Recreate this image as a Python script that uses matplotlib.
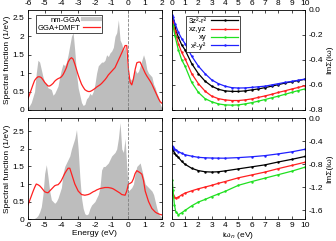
import numpy as np
import matplotlib.pyplot as plt
from matplotlib.lines import Line2D

plt.rcParams['font.family'] = ['Liberation Sans', 'DejaVu Sans']
plt.rcParams['font.size'] = 6
plt.rcParams['axes.unicode_minus'] = False

# ---- spectral functions, energy grid in eV ----
energy = np.round(np.arange(-6.0, 2.01, 0.1), 2)

gga_top = [0.05, 0.12, 0.2, 0.35, 0.5, 1.0, 1.35, 1.3, 1.1, 0.9, 0.75,
           0.7, 0.6, 0.58, 0.55, 0.4, 0.45, 0.55, 0.65, 0.9, 1.1, 1.25,
           1.2, 1.3, 1.5, 1.75, 2.0, 2.1, 1.6, 1.0, 0.6, 0.4, 0.2,
           0.12, 0.15, 0.3, 0.35, 0.45, 0.4, 0.5, 0.7, 1.0, 1.2, 1.25,
           1.3, 1.3, 1.35, 1.5, 1.45, 1.55, 1.6, 1.7, 2.0, 2.1, 2.45,
           1.9, 1.8, 1.6, 1.75, 1.3, 0.8, 0.85, 0.8, 0.95, 1.1, 1.0,
           1.05, 1.2, 1.35, 1.5, 1.35, 1.1, 1.0, 0.95, 0.9, 0.7, 0.6,
           0.45, 0.35, 0.15, 0.05]
dmft_top = [0.3, 0.42, 0.55, 0.68, 0.8, 0.86, 0.9, 0.9, 0.88, 0.82, 0.75,
            0.7, 0.65, 0.65, 0.68, 0.72, 0.78, 0.82, 0.85, 0.87, 0.9, 0.96,
            1.05, 1.15, 1.3, 1.38, 1.42, 1.38, 1.25, 1.1, 0.95, 0.82, 0.7,
            0.62, 0.55, 0.52, 0.5, 0.5, 0.52, 0.55, 0.58, 0.62, 0.65, 0.68,
            0.72, 0.77, 0.82, 0.88, 0.95, 1.0, 1.05, 1.1, 1.15, 1.25, 1.35,
            1.45, 1.55, 1.65, 1.75, 1.75, 1.1, 0.75, 0.68, 0.85, 1.1, 1.28,
            1.3, 1.3, 1.2, 1.1, 1.0, 0.92, 0.85, 0.78, 0.7, 0.6, 0.5,
            0.4, 0.3, 0.22, 0.18]

gga_bot = [0.0, 0.0, 0.0, 0.01, 0.02, 0.05, 0.1, 0.2, 0.35, 0.7, 1.3,
           1.55, 1.2, 0.8, 0.55, 0.5, 0.45, 0.5, 0.6, 0.75, 0.9, 1.3,
           1.5, 1.6, 1.7, 1.8, 2.0, 2.15, 2.3, 2.55, 2.0, 1.2, 0.6,
           0.3, 0.15, 0.12, 0.15, 0.3, 0.4, 0.45, 0.5, 0.6, 0.7, 0.9,
           1.4, 1.5, 1.5, 1.55, 1.6, 1.7, 1.8, 1.85, 1.9, 2.0, 2.3,
           2.75, 2.0, 1.9, 2.3, 1.5, 0.8, 0.85, 0.9, 1.0, 1.3, 1.5,
           1.55, 1.6, 1.4, 1.2, 1.0, 0.95, 0.9, 0.85, 0.8, 0.7, 0.5,
           0.3, 0.15, 0.08, 0.05]
dmft_bot = [0.4, 0.52, 0.65, 0.78, 0.9, 1.0, 0.98, 0.95, 0.9, 0.84, 0.78,
            0.76, 0.75, 0.8, 0.85, 0.9, 0.95, 0.97, 0.98, 1.03, 1.1, 1.2,
            1.3, 1.38, 1.45, 1.45, 1.3, 1.15, 1.0, 0.9, 0.8, 0.75, 0.7,
            0.69, 0.68, 0.69, 0.7, 0.72, 0.75, 0.78, 0.8, 0.83, 0.85, 0.87,
            0.88, 0.89, 0.9, 0.9, 0.9, 0.89, 0.88, 0.86, 0.83, 0.8, 0.77,
            0.74, 0.7, 0.69, 0.68, 0.8, 1.0, 1.02, 1.05, 1.15, 1.3, 1.38,
            1.35, 1.32, 1.28, 1.1, 0.8, 0.65, 0.5, 0.4, 0.3, 0.25, 0.2,
            0.17, 0.15, 0.13, 0.12]

# ---- self-energies on Matsubara axis ----
wn_top = [0.05, 0.1, 0.25, 0.5, 0.75, 1.0, 1.5, 2.0, 2.5, 3.0, 3.5, 4.0,
          4.5, 5.0, 5.5, 6.0, 6.5, 7.0, 7.5, 8.0, 8.5, 9.0, 9.5, 10.0]
s_z2_top = [-0.06, -0.08, -0.14, -0.22, -0.28, -0.32, -0.43, -0.51, -0.57, -0.61,
            -0.635, -0.648, -0.652, -0.652, -0.648, -0.64, -0.632, -0.622, -0.61,
            -0.598, -0.585, -0.575, -0.565, -0.555]
s_xz_top = [-0.08, -0.1, -0.17, -0.27, -0.34, -0.39, -0.51, -0.59, -0.65, -0.69,
            -0.71, -0.72, -0.725, -0.725, -0.72, -0.712, -0.7, -0.688, -0.675,
            -0.66, -0.647, -0.633, -0.62, -0.606]
s_xy_top = [-0.11, -0.13, -0.21, -0.32, -0.4, -0.45, -0.58, -0.66, -0.71, -0.735,
            -0.752, -0.76, -0.762, -0.76, -0.752, -0.742, -0.73, -0.717, -0.703,
            -0.69, -0.675, -0.66, -0.645, -0.632]
s_x2_top = [-0.04, -0.06, -0.11, -0.18, -0.23, -0.27, -0.37, -0.45, -0.51, -0.56,
            -0.59, -0.61, -0.622, -0.625, -0.624, -0.62, -0.615, -0.61, -0.6,
            -0.59, -0.58, -0.572, -0.563, -0.553]

wn_bot = [0.05, 0.1, 0.2, 0.3, 0.5, 0.75, 1.0, 1.5, 2.0, 2.5, 3.0, 3.5, 4.0,
          5.0, 6.0, 7.0, 8.0, 9.0, 10.0]
s_z2_bot = [-0.5, -0.55, -0.6, -0.64, -0.68, -0.75, -0.8, -0.87, -0.91, -0.93,
            -0.935, -0.93, -0.915, -0.88, -0.845, -0.81, -0.76, -0.715, -0.665]
s_xz_bot = [-1.26, -1.33, -1.37, -1.39, -1.37, -1.33, -1.3, -1.26, -1.225, -1.195,
            -1.165, -1.13, -1.1, -1.035, -0.985, -0.935, -0.875, -0.82, -0.765]
s_xy_bot = [-1.08, -1.25, -1.5, -1.62, -1.675, -1.64, -1.6, -1.52, -1.455, -1.41,
            -1.36, -1.315, -1.27, -1.165, -1.1, -1.04, -0.98, -0.92, -0.85]
s_x2_bot = [-0.48, -0.5, -0.53, -0.55, -0.58, -0.61, -0.635, -0.66, -0.68, -0.688,
            -0.692, -0.694, -0.695, -0.685, -0.67, -0.65, -0.62, -0.585, -0.54]

orb_labels = ['3z²-r²', 'xz,yz', 'xy', 'x²-y²']
orb_colors = ['black', '#ff2020', '#20e020', '#2020ff']

fig = plt.figure(figsize=(3.36, 2.41), dpi=100)
ax_tl = fig.add_axes([0.083, 0.544, 0.399, 0.415])
ax_bl = fig.add_axes([0.083, 0.091, 0.399, 0.419])
ax_tr = fig.add_axes([0.511, 0.544, 0.397, 0.415])
ax_br = fig.add_axes([0.511, 0.091, 0.397, 0.419])


def style(ax):
    ax.tick_params(direction='in', top=True, right=True, length=2.5,
                   width=0.5, labelsize=6)
    ax.tick_params(axis='x', pad=2)
    ax.tick_params(axis='y', pad=2.5)
    for s in ax.spines.values():
        s.set_linewidth(0.6)


# left panels
for ax, gga, dmft, ymax in [(ax_tl, gga_top, dmft_top, 2.72),
                            (ax_bl, gga_bot, dmft_bot, 2.88)]:
    ax.fill_between(energy, 0, gga, color='#bdbdbd', lw=0, label='nm-GGA')
    ax.plot(energy, dmft, color='#ff2020', lw=0.9, label='GGA+DMFT')
    ax.axvline(0, color='gray', ls='--', lw=0.6)
    ax.set_xlim(-6, 2)
    ax.set_ylim(0, ymax)
    ax.set_xticks(range(-6, 3))
    ax.set_yticks([0, 0.5, 1, 1.5, 2, 2.5])
    ax.set_yticklabels(['0', '0.5', '1', '1.5', '2', '2.5'])
    ax.set_ylabel('Spectral function (1/eV)', labelpad=1)
    style(ax)

ax_tl.tick_params(labeltop=True, labelbottom=False)
ax_bl.set_xlabel('Energy (eV)', labelpad=1)

# legend for left panel, gnuplot style
h_gga = Line2D([], [], color='#c8c8c8', lw=3)
h_dmft = Line2D([], [], color='#ff2020', lw=0.9)
ax_tl.legend([h_gga, h_dmft], ['nm-GGA', 'GGA+DMFT'], loc='upper left',
             bbox_to_anchor=(0.06, 0.95), markerfirst=False, fancybox=False,
             edgecolor='black', framealpha=1, fontsize=5.5, handlelength=2.2,
             borderpad=0.2, labelspacing=0.1, handletextpad=0.4,
             borderaxespad=0).get_frame().set_linewidth(0.5)

# right panels
for ax, wn, series, ymin, yt in [
        (ax_tr, wn_top, [s_z2_top, s_xz_top, s_xy_top, s_x2_top], -0.8,
         [0.0, -0.2, -0.4, -0.6, -0.8]),
        (ax_br, wn_bot, [s_z2_bot, s_xz_bot, s_xy_bot, s_x2_bot], -1.75,
         [0.0, -0.4, -0.8, -1.2, -1.6])]:
    for vals, lab, c in zip(series, orb_labels, orb_colors):
        ax.plot(wn, vals, color=c, lw=0.9, marker='.', ms=1.5, label=lab)
    ax.set_xlim(0, 10)
    ax.set_ylim(ymin, 0)
    ax.set_xticks(range(0, 11))
    ax.set_yticks(yt)
    ax.set_yticklabels([f'{v:.1f}' for v in yt])
    style(ax)
    ax.tick_params(labelleft=False, labelright=True)
    ax.yaxis.set_label_position('right')
    ax.set_ylabel('ImΣ(iω)', labelpad=2)

ax_tr.tick_params(labeltop=True, labelbottom=False)
ax_br.set_xlabel('iω$_n$ (eV)', labelpad=1)
ax_tr.legend(loc='upper left', bbox_to_anchor=(0.11, 0.94), markerfirst=False,
             fancybox=False, edgecolor='black', framealpha=1, fontsize=5.5,
             handlelength=3.6, borderpad=0.25, labelspacing=0.1,
             handletextpad=0.6, borderaxespad=0).get_frame().set_linewidth(0.5)

fig.savefig('out.png', dpi=100)
